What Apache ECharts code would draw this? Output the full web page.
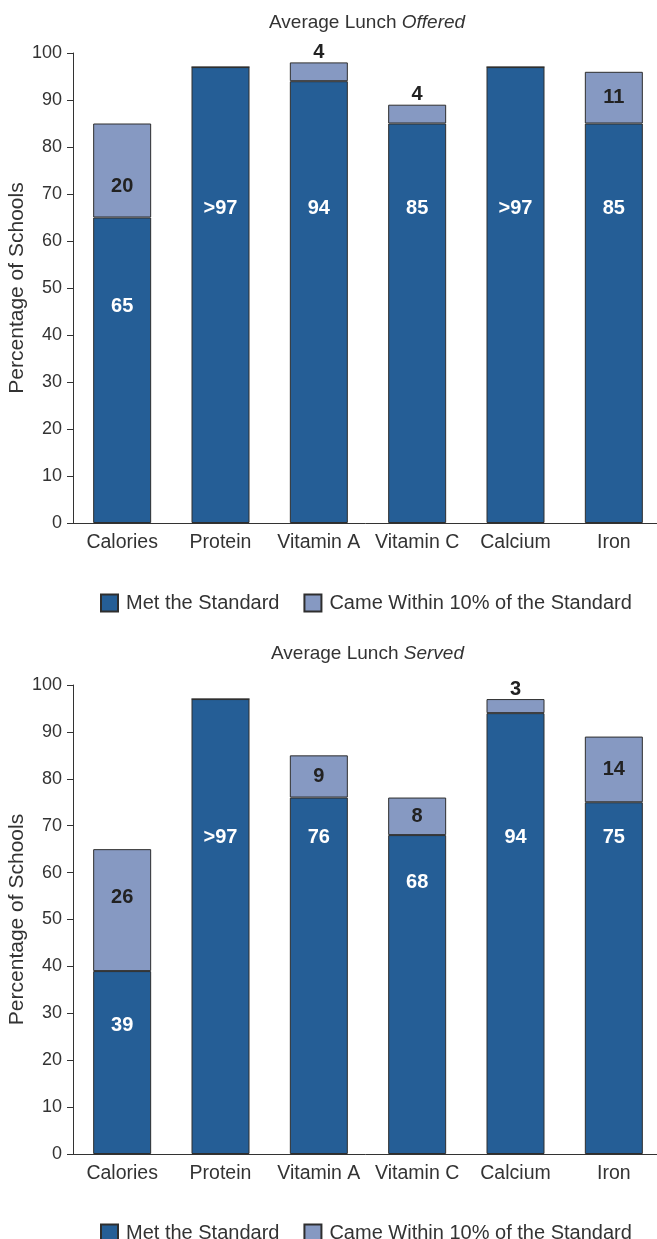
<!DOCTYPE html>
<html>
<head>
<meta charset="utf-8">
<script src="https://cdn.jsdelivr.net/npm/echarts@6/dist/echarts.min.js"></script>
<style>
  html, body { margin: 0; padding: 0; background: #fff; }
  #chart { width: 657px; height: 1239px; }
</style>
</head>
<body>
<div id="chart"></div>
<script>
// Nutrient standards met by school lunches (percentage of schools)
const categories = ['Calories', 'Protein', 'Vitamin A', 'Vitamin C', 'Calcium', 'Iron'];
const yTicks = [0, 10, 20, 30, 40, 50, 60, 70, 80, 90, 100];

const offeredMet = [65, 97, 94, 85, 97, 85];
const offeredWithin = [20, 0, 4, 4, 0, 11];
const offeredMetAbove = [false, true, false, false, true, false];   // shown as ">97"

const servedMet = [39, 97, 76, 68, 94, 75];
const servedWithin = [26, 0, 9, 8, 3, 14];
const servedMetAbove = [false, true, false, false, false, false];

const seriesNames = ['Met the Standard', 'Came Within 10% of the Standard'];

// Axis level (in % units) where each inside label is centred
const offeredMetLabelAt = [46, 67, 67, 67, 67, 67];
const offeredWithinLabelAt = [71.5, null, null, null, null, 90.6];
const servedMetLabelAt = [27.5, 67.4, 67.4, 57.8, 67.4, 67.4];
const servedWithinLabelAt = [54.8, null, 80.5, 72, null, 82];

const DARK = '#255e96';
const LIGHT = '#8699c2';
const EDGE = '#2e2e2e';
const TEXT = '#333333';
const FONT = '"Liberation Sans", Arial, Helvetica, sans-serif';

const panels = [
  { word: 'Offered', met: offeredMet, within: offeredWithin, above: offeredMetAbove,
    metAt: offeredMetLabelAt, withinAt: offeredWithinLabelAt,
    titleTop: 8, titleLeft: 264, gridTop: 53, gridHeight: 470, legendTop: 588 },
  { word: 'Served', met: servedMet, within: servedWithin, above: servedMetAbove,
    metAt: servedMetLabelAt, withinAt: servedWithinLabelAt,
    titleTop: 639, titleLeft: 266, gridTop: 685, gridHeight: 469, legendTop: 1218 }
];

const option = {
  animation: false,
  backgroundColor: '#ffffff',
  textStyle: { fontFamily: FONT },
  title: [], grid: [], xAxis: [], yAxis: [], legend: [], series: []
};

panels.forEach((p, gi) => {
  const ppu = p.gridHeight / 100;
  option.title.push({
    left: p.titleLeft, top: p.titleTop,
    text: '{n|Average Lunch }{i|' + p.word + '}',
    textStyle: {
      fontWeight: 'normal',
      rich: {
        n: { fontFamily: FONT, fontSize: 19, color: TEXT, fontWeight: 'normal' },
        i: { fontFamily: FONT, fontSize: 19, color: TEXT, fontWeight: 'normal', fontStyle: 'italic' }
      }
    }
  });
  option.grid.push({
    left: 73, width: 590, top: p.gridTop, height: p.gridHeight,
    containLabel: false, outerBoundsMode: 'none'
  });
  option.xAxis.push({
    type: 'category', gridIndex: gi, data: categories,
    axisLine: { lineStyle: { color: '#333', width: 1 } },
    axisTick: { show: false },
    axisLabel: { color: TEXT, fontSize: 19.5, margin: 10, fontFamily: FONT, interval: 0 }
  });
  option.yAxis.push({
    type: 'value', gridIndex: gi, min: yTicks[0], max: yTicks[yTicks.length - 1], interval: 10,
    name: 'Percentage of Schools', nameLocation: 'middle', nameGap: 45,
    nameMoveOverlap: false,
    nameTextStyle: { color: TEXT, fontSize: 21, fontFamily: FONT },
    axisLine: { show: true, lineStyle: { color: '#333', width: 1 } },
    axisTick: { show: true, length: 6, lineStyle: { color: '#333' } },
    axisLabel: { color: TEXT, fontSize: 18, margin: 11, fontFamily: FONT },
    splitLine: { show: false }
  });
  option.legend.push({
    top: p.legendTop, left: 95, itemWidth: 17, itemHeight: 17, itemGap: 24,
    icon: 'rect',
    data: seriesNames,
    textStyle: { color: TEXT, fontSize: 20, fontFamily: FONT, padding: [0, 0, 0, 3] }
  });

  const metData = p.met.map((v, i) => ({
    value: v,
    label: {
      show: true,
      position: ['50%', (v - p.metAt[i]) * ppu],
      align: 'center', verticalAlign: 'middle',
      formatter: (p.above[i] ? '>' : '') + v
    }
  }));
  const withinData = p.within.map((v, i) => {
    const top = p.met[i] + v;
    let label;
    if (v === 0) label = { show: false };
    else if (p.withinAt[i] == null) label = { show: true, position: 'top', distance: 0, formatter: String(v) };
    else label = {
      show: true, position: ['50%', (top - p.withinAt[i]) * ppu],
      align: 'center', verticalAlign: 'middle', formatter: String(v)
    };
    return { value: v, label };
  });

  option.series.push({
    name: seriesNames[0], type: 'bar', stack: 'p' + gi,
    xAxisIndex: gi, yAxisIndex: gi, barWidth: 58,
    itemStyle: { color: DARK, borderColor: EDGE, borderWidth: 1 },
    label: { color: '#ffffff', fontWeight: 'bold', fontSize: 20, fontFamily: FONT },
    data: metData
  });
  option.series.push({
    name: seriesNames[1], type: 'bar', stack: 'p' + gi,
    xAxisIndex: gi, yAxisIndex: gi, barWidth: 58,
    itemStyle: { color: LIGHT, borderColor: EDGE, borderWidth: 1 },
    label: { color: '#222222', fontWeight: 'bold', fontSize: 20, fontFamily: FONT },
    data: withinData
  });
});

const chart = echarts.init(document.getElementById('chart'), null, { renderer: 'canvas' });
chart.setOption(option);
</script>
</body>
</html>
